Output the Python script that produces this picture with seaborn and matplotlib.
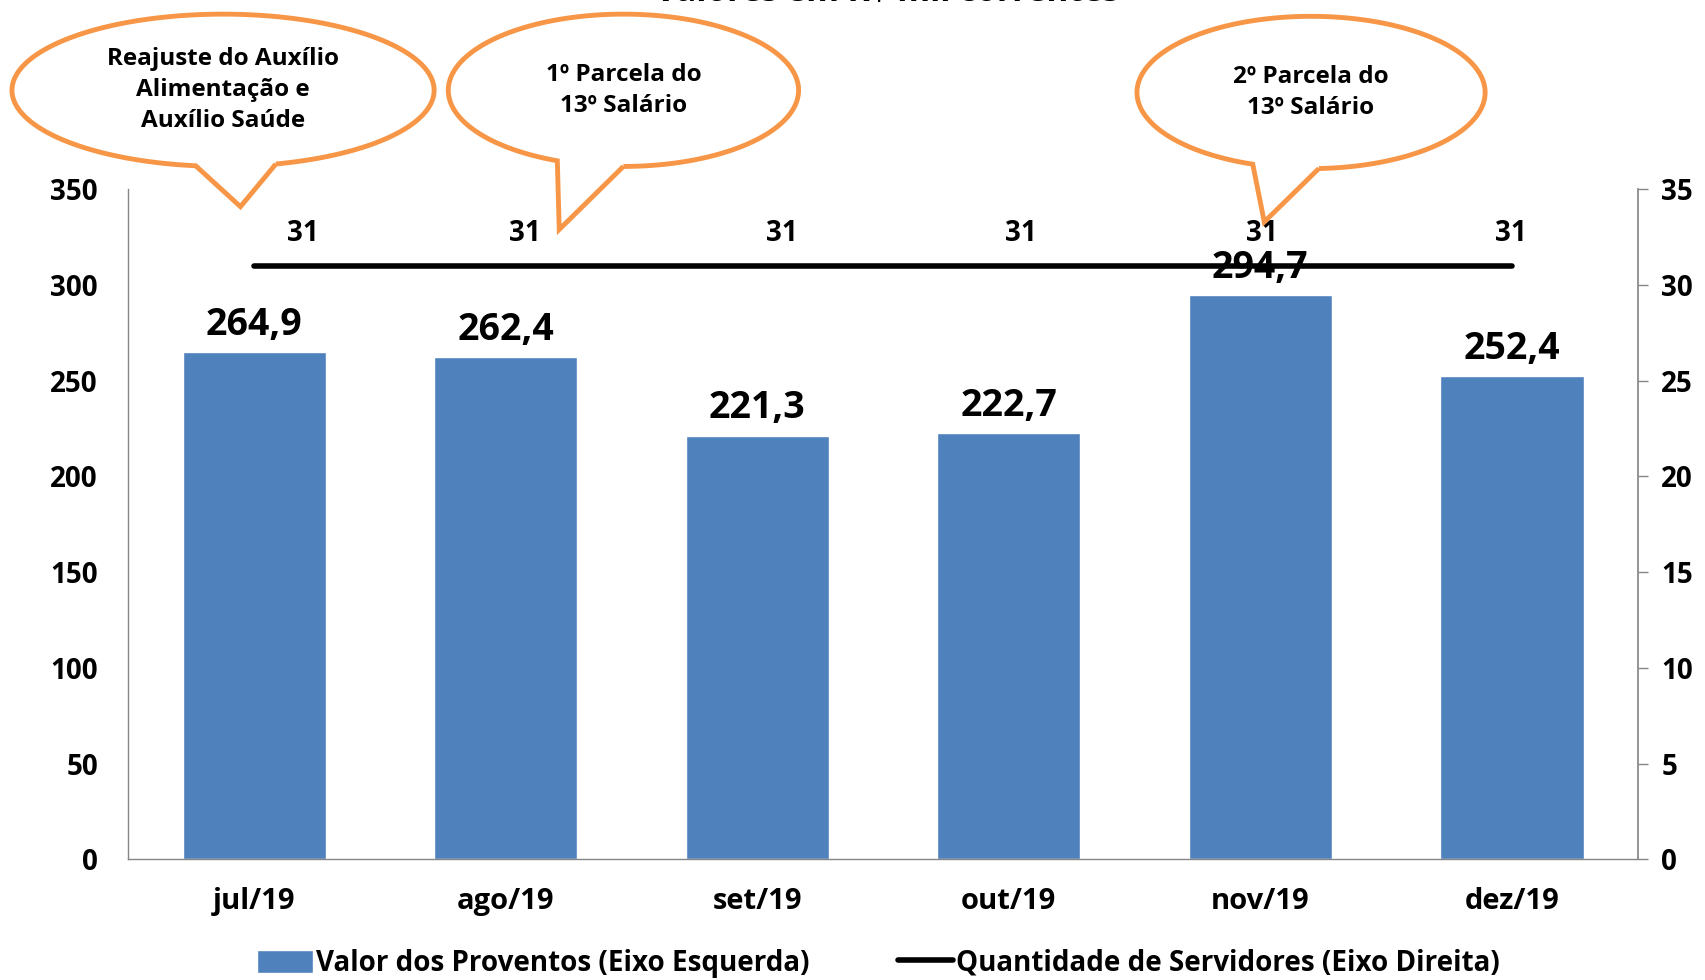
import seaborn as sns
import matplotlib.pyplot as plt
import pandas as pd
from matplotlib.path import Path
from matplotlib.patches import PathPatch, Patch
from matplotlib.lines import Line2D
import numpy as np

meses = ['jul/19', 'ago/19', 'set/19', 'out/19', 'nov/19', 'dez/19']
proventos = [264.9, 262.4, 221.3, 222.7, 294.7, 252.4]
servidores = [31, 31, 31, 31, 31, 31]
rotulos_prov = ['264,9', '262,4', '221,3', '222,7', '294,7', '252,4']

callout_textos = ['Reajuste do Auxílio\nAlimentação e\nAuxílio Saúde',
                  '1º Parcela do\n13º Salário',
                  '2º Parcela do\n13º Salário']

df = pd.DataFrame({'mes': meses, 'proventos': proventos, 'servidores': servidores})

sns.set_theme(style='white')
plt.rcParams['font.family'] = ['Open Sans', 'DejaVu Sans']
plt.rcParams['font.weight'] = 'bold'
plt.rcParams['text.color'] = 'black'
plt.rcParams['xtick.color'] = 'black'
plt.rcParams['ytick.color'] = 'black'

fig = plt.figure(figsize=(17.06, 9.8), dpi=100)
ax = fig.add_axes([0.0753, 0.1232, 0.8846, 0.6837])

sns.barplot(data=df, x='mes', y='proventos', color='#4F81BD', width=0.57,
            saturation=1, ax=ax, legend=False)
ax.set_xlim(-0.5, 5.5)
ax.set_ylim(0, 350)
ax.set_yticks(range(0, 351, 50))
ax.set_xlabel('')
ax.set_ylabel('')
ax.tick_params(axis='y', labelsize=20, length=0, pad=22)
ax.tick_params(axis='x', labelsize=21, length=0, pad=20)
for lab in ax.get_xticklabels() + ax.get_yticklabels():
    lab.set_fontweight('bold')
for s in ['top', 'right']:
    ax.spines[s].set_visible(False)
for s in ['left', 'bottom']:
    ax.spines[s].set_color('#868686')
    ax.spines[s].set_linewidth(1)

for i, (v, t) in enumerate(zip(proventos, rotulos_prov)):
    ax.annotate(t, (i, v), xytext=(0, 6), textcoords='offset points',
                ha='center', va='bottom', fontsize=27, fontweight='bold')

ax2 = ax.twinx()
sns.lineplot(data=df, x='mes', y='servidores', color='black', linewidth=4,
             ax=ax2, legend=False, solid_capstyle='round')
ax2.set_ylim(0, 35)
ax2.set_yticks(range(0, 36, 5))
ax2.set_ylabel('')
ax2.set_xlabel('')
ax2.set_xlim(-0.5, 5.5)
ax2.tick_params(axis='y', labelsize=20, length=7, width=1, color='#868686',
                labelcolor='black', direction='out', pad=10, right=True)
for lab in ax2.get_yticklabels():
    lab.set_fontweight('bold')
for s in ['top', 'left', 'bottom']:
    ax2.spines[s].set_visible(False)
ax2.spines['right'].set_color('#868686')

desloc = [35, 14, 18, 9, 1, -1]
for i, v in enumerate(servidores):
    ax2.annotate(str(v), (i, v), xytext=(desloc[i], 13), textcoords='offset points',
                 ha='center', va='bottom', fontsize=20, fontweight='bold')

# balões (coordenadas em pixels da imagem de referência 1568x901)
def balao(cx, cy, rx, ry, base1, base2, ponta, texto):
    def f(px, py):
        return (px / 1568, 1 - py / 901)
    a1 = np.arctan2(-(base1[1] - cy) / ry, (base1[0] - cx) / rx)
    a2 = np.arctan2(-(base2[1] - cy) / ry, (base2[0] - cx) / rx)
    if a2 < a1:
        a2 += 2 * np.pi
    ang = np.linspace(a2, a1 + 2 * np.pi, 200)
    pts = [f(cx + rx * np.cos(a), cy - ry * np.sin(a)) for a in ang]
    pts.append(f(*ponta))
    pts.append(pts[0])
    fig.patches.append(PathPatch(Path(pts), transform=fig.transFigure, facecolor='white',
                                 edgecolor='#F79646', linewidth=3.5, zorder=5))
    fig.text(cx / 1568, 1 - cy / 901, texto, ha='center', va='center', fontsize=17.5,
             fontweight='bold', linespacing=1.4, zorder=6)

balao(205, 83, 194, 70, (180, 152), (253, 150), (221, 190), callout_textos[0])
balao(573, 83, 161, 70, (513, 147), (573, 153), (514, 211), callout_textos[1])
balao(1205, 85, 160, 70, (1153, 149), (1212, 153), (1162, 204), callout_textos[2])

fig.text(0.52, 0.991, 'Valores em R$ mil correntes', ha='center', va='bottom',
         fontsize=24, fontweight='bold')

handles = [Patch(facecolor='#4F81BD', label='Valor dos Proventos (Eixo Esquerda)'),
           Line2D([0], [0], color='black', lw=4, label='Quantidade de Servidores (Eixo Direita)')]
fig.legend(handles=handles, loc='center', bbox_to_anchor=(0.515, 0.017), ncol=2,
           frameon=False, prop={'size': 20, 'weight': 'bold'}, handlelength=2.0,
           handleheight=0.9, handletextpad=0.1, columnspacing=3.2)

fig.savefig('out.png', dpi=100)
